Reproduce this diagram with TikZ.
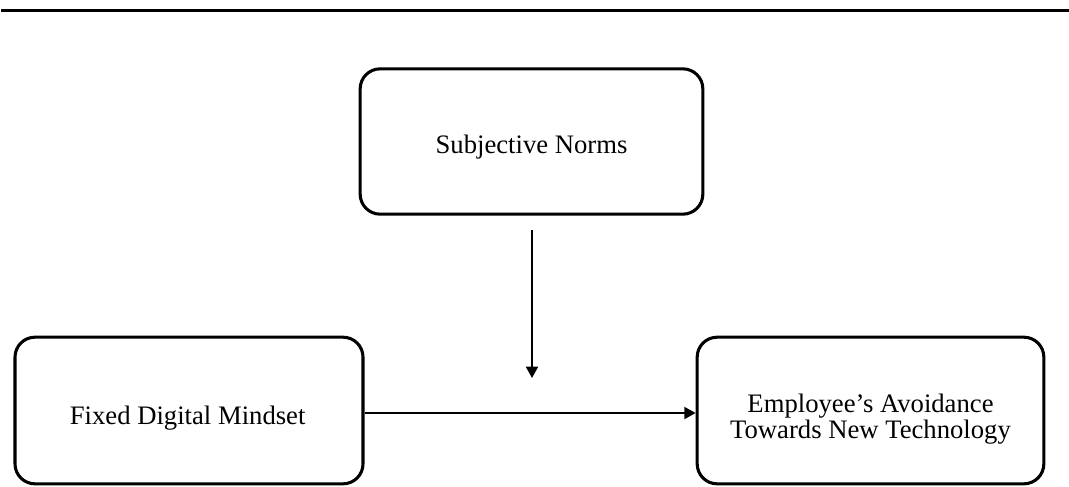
\documentclass[tikz,border=0pt]{standalone}
\usepackage{fontspec}
\setmainfont{Liberation Serif}
\usetikzlibrary{arrows.meta}
\begin{document}
\begin{tikzpicture}[x=0.75pt,y=-0.75pt,
  box/.style={draw=black, line width=2.3pt, rounded corners=15pt, inner sep=0pt},
  txt/.style={align=center, inner sep=0pt, font=\fontsize{20pt}{18pt}\selectfont},
  arr/.style={line width=1.5pt, -{Triangle[length=8.5pt,width=9pt]}}]
\useasboundingbox (0,0) rectangle (1069,486);
\coordinate (l0) at (1,10.5);
\coordinate (l1) at (1069,10.5);
\draw[line width=2.3pt] (l0) -- (l1);
\node[box, minimum width=257pt, minimum height=109pt] (sn) at (531.5,141.5) {};
\node[box, minimum width=261pt, minimum height=110pt] (fd) at (189,410.5) {};
\node[box, minimum width=260pt, minimum height=110pt] (ea) at (870.5,410.5) {};
\node[txt] (snt) at ([yshift=-4pt]sn.center) {Subjective Norms};
\node[txt] (fdt) at ([yshift=-6pt,xshift=-1pt]fd.center) {Fixed Digital Mindset};
\node[txt] (eat) at ([yshift=-6.5pt]ea.center) {Employee’s Avoidance\\Towards New Technology};
\coordinate (v0) at (532,230);
\coordinate (v1) at (532,378);
\draw[arr] (v0) -- (v1);
\coordinate (h) at (0,413);
\draw[arr] (fd.east |- h) -- (ea.west |- h);
\end{tikzpicture}
\end{document}
